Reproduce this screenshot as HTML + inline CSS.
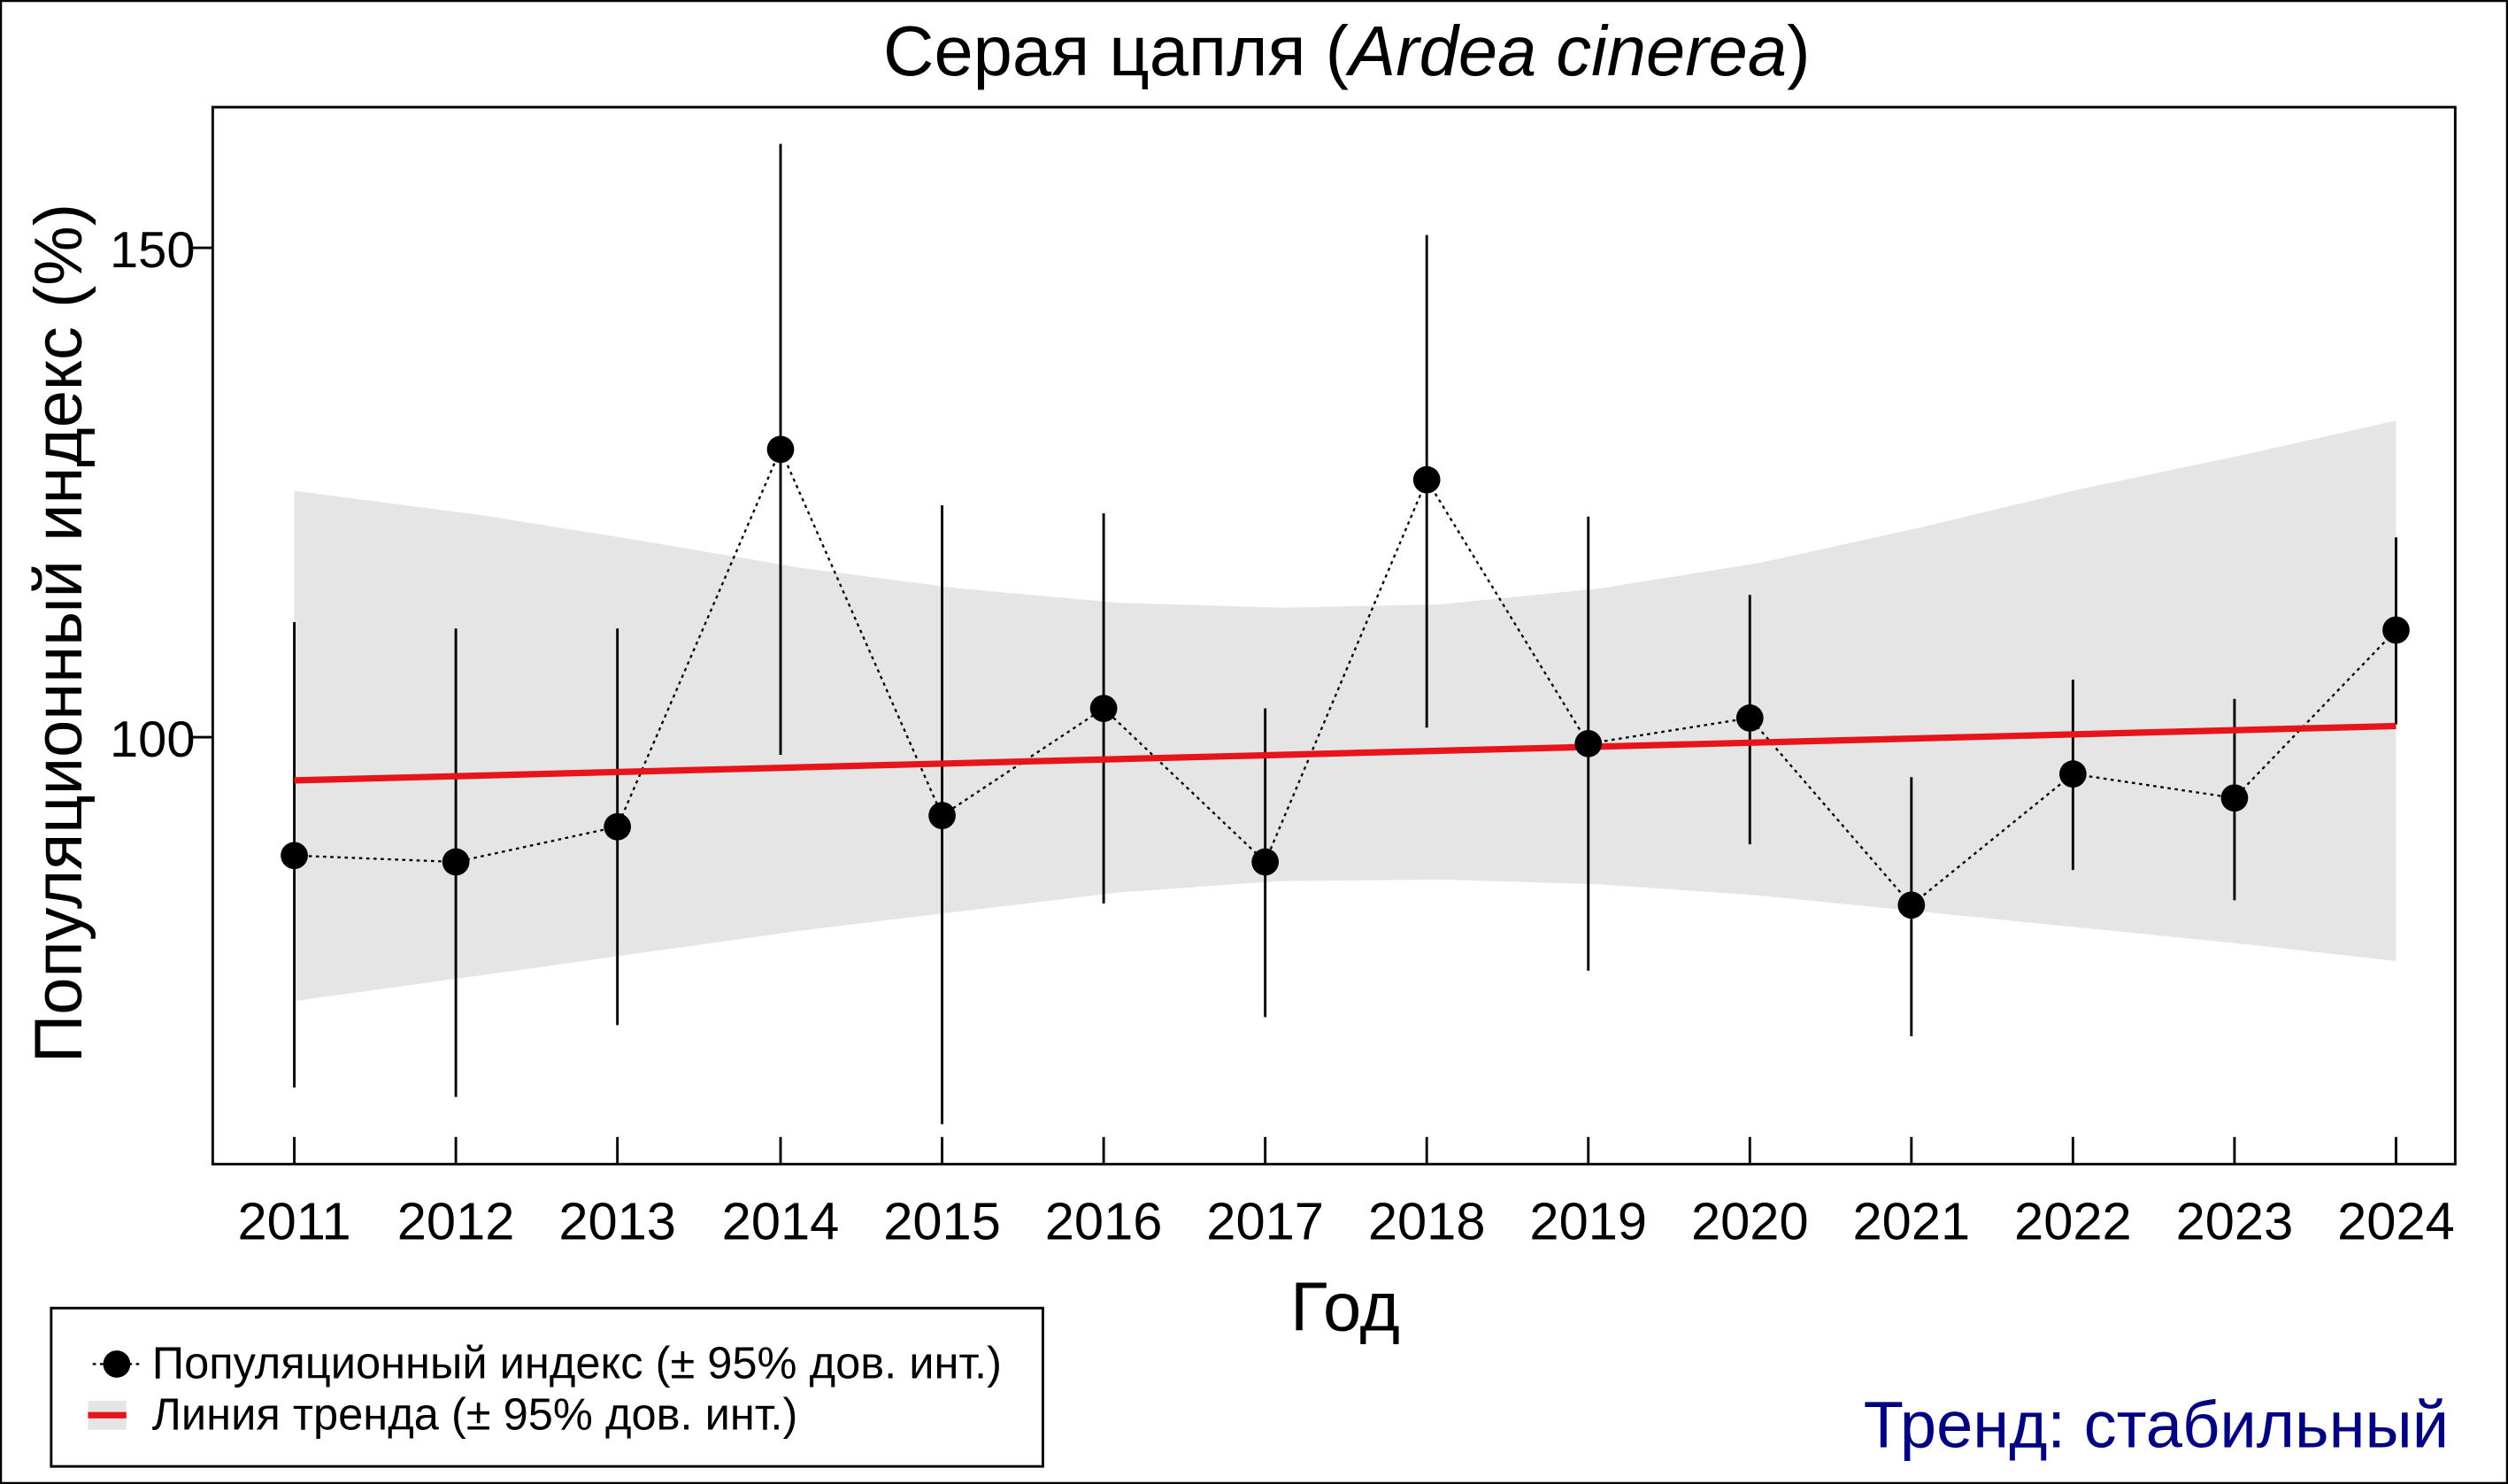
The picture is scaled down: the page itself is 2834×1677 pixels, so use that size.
<!DOCTYPE html>
<html><head><meta charset="utf-8"><style>html,body{margin:0;padding:0;background:#fff}svg{display:block}</style></head><body>
<svg width="2834" height="1677" viewBox="0 0 1568 928" preserveAspectRatio="none" xmlns="http://www.w3.org/2000/svg" font-family="Liberation Sans, Arial, sans-serif">
<rect x="0.5" y="0.5" width="1567" height="927" fill="#fff" stroke="#000" stroke-width="1.5"/>
<text x="842" y="47" font-size="44" text-anchor="middle">Серая цапля (<tspan font-style="italic">Ardea cinerea</tspan>)</text>
<path d="M184,307 L300,322 L400,338 L500,355 L600,368 L700,377 L800,380 L900,378 L1000,368 L1100,352 L1200,330 L1300,306 L1400,285 L1498,263 L1498,601 L1400,590 L1300,580 L1200,570 L1100,560 L1000,553 L900,550 L800,551 L700,558 L600,570 L500,582 L400,596 L300,610 L184,626 Z" fill="#e5e5e5"/>
<g stroke="#000" stroke-width="1.6">
<line x1="184" y1="389" x2="184" y2="680"/>
<line x1="285" y1="393" x2="285" y2="686"/>
<line x1="386" y1="393" x2="386" y2="641"/>
<line x1="488" y1="90" x2="488" y2="472"/>
<line x1="589" y1="316" x2="589" y2="703"/>
<line x1="690" y1="321" x2="690" y2="565"/>
<line x1="791" y1="443" x2="791" y2="636"/>
<line x1="892" y1="147" x2="892" y2="455"/>
<line x1="993" y1="323" x2="993" y2="607"/>
<line x1="1094" y1="372" x2="1094" y2="528"/>
<line x1="1195" y1="486" x2="1195" y2="648"/>
<line x1="1296" y1="425" x2="1296" y2="544"/>
<line x1="1397" y1="437" x2="1397" y2="563"/>
<line x1="1498" y1="336" x2="1498" y2="453"/>
</g>
<polyline points="184,535 285,539 386,517 488,281 589,510 690,443 791,539 892,300 993,465 1094,449 1195,566 1296,484 1397,499 1498,394" fill="none" stroke="#000" stroke-width="1.3" stroke-dasharray="2,2.5"/>
<line x1="184" y1="488" x2="1498" y2="454" stroke="#e8141c" stroke-width="4"/>
<g fill="#000">
<circle cx="184" cy="535" r="8.5"/><circle cx="285" cy="539" r="8.5"/><circle cx="386" cy="517" r="8.5"/><circle cx="488" cy="281" r="8.5"/><circle cx="589" cy="510" r="8.5"/><circle cx="690" cy="443" r="8.5"/><circle cx="791" cy="539" r="8.5"/><circle cx="892" cy="300" r="8.5"/><circle cx="993" cy="465" r="8.5"/><circle cx="1094" cy="449" r="8.5"/><circle cx="1195" cy="566" r="8.5"/><circle cx="1296" cy="484" r="8.5"/><circle cx="1397" cy="499" r="8.5"/><circle cx="1498" cy="394" r="8.5"/>
</g>
<rect x="133" y="67" width="1402" height="661" fill="none" stroke="#000" stroke-width="1.6"/>
<g stroke="#000" stroke-width="1.6">
<line x1="120" y1="155" x2="133" y2="155"/><line x1="120" y1="461" x2="133" y2="461"/>
<line x1="184" y1="711" x2="184" y2="728"/><line x1="285" y1="711" x2="285" y2="728"/><line x1="386" y1="711" x2="386" y2="728"/><line x1="488" y1="711" x2="488" y2="728"/><line x1="589" y1="711" x2="589" y2="728"/><line x1="690" y1="711" x2="690" y2="728"/><line x1="791" y1="711" x2="791" y2="728"/><line x1="892" y1="711" x2="892" y2="728"/><line x1="993" y1="711" x2="993" y2="728"/><line x1="1094" y1="711" x2="1094" y2="728"/><line x1="1195" y1="711" x2="1195" y2="728"/><line x1="1296" y1="711" x2="1296" y2="728"/><line x1="1397" y1="711" x2="1397" y2="728"/><line x1="1498" y1="711" x2="1498" y2="728"/>
</g>
<g font-size="33" text-anchor="middle">
<text x="184" y="775">2011</text><text x="285" y="775">2012</text><text x="386" y="775">2013</text><text x="488" y="775">2014</text><text x="589" y="775">2015</text><text x="690" y="775">2016</text><text x="791" y="775">2017</text><text x="892" y="775">2018</text><text x="993" y="775">2019</text><text x="1094" y="775">2020</text><text x="1195" y="775">2021</text><text x="1296" y="775">2022</text><text x="1397" y="775">2023</text><text x="1498" y="775">2024</text>
<text x="122" y="167" text-anchor="end" font-size="32">150</text>
<text x="122" y="473" text-anchor="end" font-size="32">100</text>
</g>
<text x="841" y="832" font-size="43" text-anchor="middle">Год</text>
<text transform="translate(51,396) rotate(-90)" font-size="42" text-anchor="middle">Популяционный индекс (%)</text>
<rect x="32" y="818" width="620" height="99" fill="#fff" stroke="#000" stroke-width="1.6"/>
<line x1="58" y1="853" x2="88" y2="853" stroke="#000" stroke-width="1.3" stroke-dasharray="2,2.5"/>
<circle cx="73" cy="853" r="8.5"/>
<rect x="55" y="876" width="24" height="18" fill="#e5e5e5"/>
<line x1="55" y1="885" x2="79" y2="885" stroke="#e8141c" stroke-width="4"/>
<text x="95" y="862" font-size="28">Популяционный индекс (± 95% дов. инт.)</text>
<text x="95" y="894" font-size="28">Линия тренда (± 95% дов. инт.)</text>
<text x="1531" y="905" font-size="41" fill="#000080" text-anchor="end">Тренд: стабильный</text>
</svg>
</body></html>
